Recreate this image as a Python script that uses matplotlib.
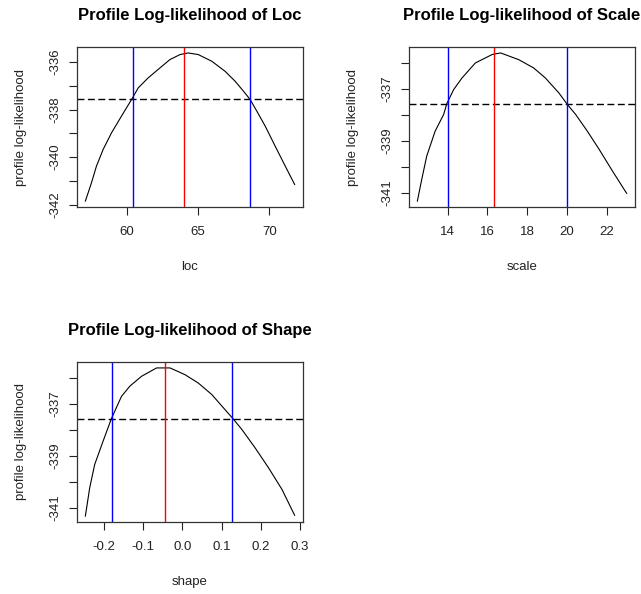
import matplotlib
matplotlib.use("Agg")
import matplotlib.pyplot as plt

plt.rcParams['font.family'] = ['Liberation Sans', 'DejaVu Sans']

# ---- data ----
loc_x = [57.06, 57.49, 57.84, 58.31, 58.90, 59.60, 60.35, 60.78, 61.48, 62.31,
         63.01, 63.72, 64.30, 65.01, 65.96, 66.89, 67.60, 68.19, 68.66, 69.13,
         69.72, 70.42, 71.13, 71.79]
loc_y = [-341.85, -341.08, -340.38, -339.68, -338.98, -338.28, -337.54, -337.09,
         -336.67, -336.25, -335.90, -335.69, -335.62, -335.69, -335.97, -336.39,
         -336.81, -337.23, -337.58, -338.07, -338.70, -339.54, -340.38, -341.15]
loc_mle = 63.98
loc_ci = [60.38, 68.66]
loc_cut = -337.56

scale_x = [12.48, 12.70, 12.95, 13.37, 13.80, 13.96, 14.30, 14.72, 15.39, 16.24,
           16.66, 17.57, 18.32, 18.91, 19.59, 20.01, 20.43, 21.02, 21.61, 22.28,
           22.99]
scale_y = [-341.33, -340.49, -339.59, -338.63, -337.98, -337.56, -337.02, -336.57,
           -335.99, -335.66, -335.60, -335.86, -336.18, -336.57, -337.15, -337.59,
           -337.98, -338.63, -339.33, -340.17, -341.03]
scale_mle = 16.35
scale_ci = [14.0, 20.0]
scale_cut = -337.57

shape_x = [-0.2471, -0.2361, -0.2233, -0.2020, -0.1806, -0.1550, -0.1338, -0.1038,
           -0.0655, -0.0315, -0.0120, 0.0069, 0.0409, 0.0752, 0.1049, 0.1289,
           0.1519, 0.1859, 0.2199, 0.2542, 0.2864]
shape_y = [-341.31, -340.23, -339.33, -338.44, -337.57, -336.72, -336.33, -335.95,
           -335.63, -335.63, -335.76, -335.89, -336.21, -336.65, -337.16, -337.57,
           -337.99, -338.70, -339.46, -340.29, -341.28]
shape_mle = -0.0432
shape_ci = [-0.1795, 0.1276]
shape_cut = -337.57

loc_xticks = [60, 65, 70]
loc_yticks = [-342, -341, -340, -339, -338, -337, -336]
scale_xticks = [14, 16, 18, 20, 22]
scale_yticks = [-341, -340, -339, -338, -337, -336]
shape_xticks = [-0.2, -0.1, 0.0, 0.1, 0.2, 0.3]
shape_yticks = [-341, -340, -339, -338, -337, -336]

W, H = 641, 594
fig = plt.figure(figsize=(W / 100, H / 100), dpi=100)


def panel(rect_px, x, y, mle, ci, cut, xt, yt, xfmt, title, xlabel):
    l, t, r, b = rect_px
    ax = fig.add_axes([l / W, 1 - b / H, (r - l) / W, (b - t) / H])
    ax.plot(x, y, color='black', lw=0.8)
    ax.margins(0.04)
    ax.axhline(cut, color='black', lw=1.0, dashes=(5, 2.5))
    ax.axvline(mle, color='#ff0000', lw=1.0)
    for c in ci:
        ax.axvline(c, color='#0000ff', lw=1.0)
    ax.set_xticks(xt)
    ax.set_xticklabels([xfmt(v) for v in xt])
    ax.set_yticks(yt)
    ax.set_yticklabels([str(v) if (v % 2 == (yt[0] % 2)) else '' for v in yt],
                       rotation=90, va='center')
    ax.tick_params(direction='out', length=6, width=0.8, labelsize=9.5,
                   colors='#222222')
    ax.tick_params(axis='x', pad=7.5)
    ax.tick_params(axis='y', pad=5.5)
    for s in ax.spines.values():
        s.set_linewidth(0.9)
        s.set_color('#333333')
    ax.set_title(title, fontsize=12, fontweight='bold', pad=19.5)
    ax.set_xlabel(xlabel, fontsize=9.5, va='center', color='#222222')
    ax.xaxis.set_label_coords(0.5, -60 / (b - t))
    ax.set_ylabel('profile log-likelihood', fontsize=9.5, va='center',
                  ha='center', color='#222222')
    ax.yaxis.set_label_coords(-56 / (r - l), 0.5)
    return ax


panel((77, 47, 303, 207), loc_x, loc_y, loc_mle, loc_ci, loc_cut,
      loc_xticks, loc_yticks, lambda v: f"{v:d}",
      'Profile Log-likelihood of Loc', 'loc')
panel((409, 47, 635, 207), scale_x, scale_y, scale_mle, scale_ci, scale_cut,
      scale_xticks, scale_yticks, lambda v: f"{v:d}",
      'Profile Log-likelihood of Scale', 'scale')
panel((77, 362, 303, 522), shape_x, shape_y, shape_mle, shape_ci, shape_cut,
      shape_xticks, shape_yticks, lambda v: f"{v:.1f}",
      'Profile Log-likelihood of Shape', 'shape')

fig.savefig('out.png', dpi=100)
